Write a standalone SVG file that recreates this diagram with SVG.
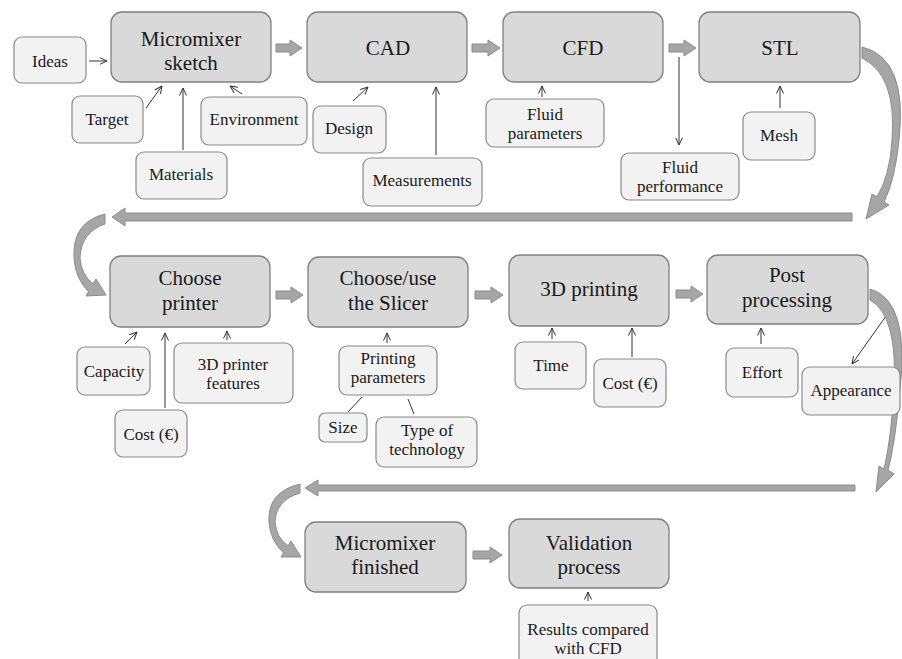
<svg xmlns="http://www.w3.org/2000/svg" width="902" height="659" viewBox="0 0 902 659">
<style>
.main{fill:#d9d9d9;stroke:#808080;stroke-width:1.3}
.sub{fill:#f2f2f2;stroke:#8a8a8a;stroke-width:1.2}
.tm{font-family:"Liberation Serif","Times New Roman",serif;font-size:21px;fill:#1a1a1a;text-anchor:middle}
.ts{font-family:"Liberation Serif","Times New Roman",serif;font-size:17px;fill:#1a1a1a;text-anchor:middle}
.thin{stroke:#333;stroke-width:1;fill:none}
.blk{fill:#a6a6a6;stroke:#8c8c8c;stroke-width:1}
</style>
<defs>
<marker id="ah" viewBox="0 0 8 8" refX="7.5" refY="4" markerWidth="8" markerHeight="8" markerUnits="userSpaceOnUse" orient="auto">
<path d="M0,0.5 L7.5,4 L0,7.5" fill="none" stroke="#333" stroke-width="1"/>
</marker>
</defs>
<rect width="902" height="659" fill="#ffffff"/>

<g id="connectors">
<line class="thin" x1="89" y1="61" x2="107" y2="61" marker-end="url(#ah)"/>
<line class="thin" x1="146" y1="108" x2="162" y2="86" marker-end="url(#ah)"/>
<line class="thin" x1="183" y1="150" x2="183" y2="88" marker-end="url(#ah)"/>
<line class="thin" x1="242" y1="94" x2="230" y2="86" marker-end="url(#ah)"/>
<line class="thin" x1="353" y1="101" x2="368" y2="87" marker-end="url(#ah)"/>
<line class="thin" x1="436" y1="155" x2="436" y2="87" marker-end="url(#ah)"/>
<line class="thin" x1="542" y1="97" x2="542" y2="86" marker-end="url(#ah)"/>
<line class="thin" x1="679" y1="57" x2="679" y2="145" marker-end="url(#ah)"/>
<line class="thin" x1="780" y1="108" x2="780" y2="86" marker-end="url(#ah)"/>
<line class="thin" x1="125" y1="344" x2="137" y2="332" marker-end="url(#ah)"/>
<line class="thin" x1="165" y1="408" x2="165" y2="333" marker-end="url(#ah)"/>
<line class="thin" x1="227" y1="340" x2="227" y2="331" marker-end="url(#ah)"/>
<line class="thin" x1="387" y1="343" x2="387" y2="333" marker-end="url(#ah)"/>
<line class="thin" x1="362" y1="397" x2="348" y2="412"/>
<line class="thin" x1="408" y1="399" x2="414" y2="414"/>
<line class="thin" x1="552" y1="339" x2="552" y2="328" marker-end="url(#ah)"/>
<line class="thin" x1="632" y1="357" x2="632" y2="328" marker-end="url(#ah)"/>
<line class="thin" x1="761" y1="344" x2="761" y2="328" marker-end="url(#ah)"/>
<line class="thin" x1="886" y1="316" x2="852" y2="364" marker-end="url(#ah)"/>
<line class="thin" x1="588" y1="601" x2="588" y2="592" marker-end="url(#ah)"/>

<path class="blk" d="M276,44 L290,44 L290,40 L302,48 L290,56 L290,52 L276,52 Z"/>
<path class="blk" d="M472,44 L488,44 L488,40 L500,48 L488,56 L488,52 L472,52 Z"/>
<path class="blk" d="M669,44 L684,44 L684,40 L696,48 L684,56 L684,52 L669,52 Z"/>
<path class="blk" d="M276,291 L291,291 L291,287 L303,295 L291,303 L291,299 L276,299 Z"/>
<path class="blk" d="M475,291 L491,291 L491,287 L503,295 L491,303 L491,299 L475,299 Z"/>
<path class="blk" d="M676,290 L691,290 L691,286 L703,294 L691,302 L691,298 L676,298 Z"/>
<path class="blk" d="M473,551 L490,551 L490,547 L502,555 L490,563 L490,559 L473,559 Z"/>

<path class="blk" d="M852,213 L125,213 L125,208 L112,217 L125,226 L125,221 L852,221 Z"/>
<path class="blk" d="M855,485 L318,485 L318,480 L305,488 L318,496 L318,491 L855,491 Z"/>

<path class="blk" d="M862,47 Q908,58 899,140 Q895,180 884,202 L889,205 L866,219 L872,194 L877,197 Q890,175 892,140 Q897,75 862,58 Z"/>
<path class="blk" d="M870,289 Q910,300 900,390 Q895,445 888,470 L894,474 L876,492 L879,466 L884,469 Q891,440 894,390 Q898,315 870,300 Z"/>
<path class="blk" d="M105,214 Q72,222 74,258 Q75,278 88.5,291.8 L86,296 L106,295 L96,279 L93,284 Q81,274 80,258 Q81,232 105,224 Z"/>
<path class="blk" d="M300,484 Q267,492 269,522 Q270,540 283.5,553 L281,557 L301,557 L291,541 L288,546 Q276,537 275,522 Q276,500 300,493 Z"/>
</g>

<g id="micromixer-sketch"><rect class="main" x="111" y="12" width="160" height="70" rx="11"/><text class="tm" x="191" y="46">Micromixer</text><text class="tm" x="191" y="70">sketch</text></g>
<g id="cad"><rect class="main" x="307" y="12" width="160" height="70" rx="11"/><text class="tm" x="388" y="55">CAD</text></g>
<g id="cfd"><rect class="main" x="503" y="12" width="160" height="70" rx="11"/><text class="tm" x="583" y="55">CFD</text></g>
<g id="stl"><rect class="main" x="699" y="12" width="161" height="70" rx="11"/><text class="tm" x="780" y="55">STL</text></g>

<g id="ideas"><rect class="sub" x="14" y="37" width="72" height="46" rx="8"/><text class="ts" x="50" y="67">Ideas</text></g>
<g id="target"><rect class="sub" x="72" y="96" width="71" height="47" rx="8"/><text class="ts" x="107" y="125">Target</text></g>
<g id="materials"><rect class="sub" x="136" y="152" width="91" height="47" rx="8"/><text class="ts" x="181" y="180">Materials</text></g>
<g id="environment"><rect class="sub" x="201" y="97" width="106" height="48" rx="8"/><text class="ts" x="254" y="125">Environment</text></g>
<g id="design"><rect class="sub" x="313" y="106" width="73" height="47" rx="8"/><text class="ts" x="349" y="134">Design</text></g>
<g id="measurements"><rect class="sub" x="363" y="158" width="119" height="48" rx="8"/><text class="ts" x="422" y="186">Measurements</text></g>
<g id="fluid-parameters"><rect class="sub" x="486" y="99" width="118" height="48" rx="8"/><text class="ts" x="545" y="120">Fluid</text><text class="ts" x="545" y="139">parameters</text></g>
<g id="fluid-performance"><rect class="sub" x="621" y="153" width="118" height="47" rx="8"/><text class="ts" x="680" y="173">Fluid</text><text class="ts" x="680" y="192">performance</text></g>
<g id="mesh"><rect class="sub" x="743" y="112" width="72" height="48" rx="8"/><text class="ts" x="779" y="141">Mesh</text></g>

<g id="choose-printer"><rect class="main" x="110" y="256" width="160" height="71" rx="11"/><text class="tm" x="190" y="285">Choose</text><text class="tm" x="190" y="310">printer</text></g>
<g id="slicer"><rect class="main" x="308" y="257" width="160" height="70" rx="11"/><text class="tm" x="388" y="285">Choose/use</text><text class="tm" x="388" y="310">the Slicer</text></g>
<g id="printing-3d"><rect class="main" x="509" y="255" width="160" height="71" rx="11"/><text class="tm" x="589" y="296">3D printing</text></g>
<g id="post-processing"><rect class="main" x="707" y="255" width="161" height="69" rx="11"/><text class="tm" x="787" y="282">Post</text><text class="tm" x="787" y="307">processing</text></g>

<g id="capacity"><rect class="sub" x="77" y="347" width="73" height="48" rx="8"/><text class="ts" x="114" y="377">Capacity</text></g>
<g id="cost-printer"><rect class="sub" x="115" y="410" width="72" height="47" rx="8"/><text class="ts" x="151" y="440">Cost (€)</text></g>
<g id="printer-features"><rect class="sub" x="174" y="343" width="119" height="60" rx="8"/><text class="ts" x="233" y="370">3D printer</text><text class="ts" x="233" y="389">features</text></g>
<g id="printing-parameters"><rect class="sub" x="339" y="346" width="98" height="49" rx="8"/><text class="ts" x="388" y="364">Printing</text><text class="ts" x="388" y="383">parameters</text></g>
<g id="size"><rect class="sub" x="319" y="413" width="48" height="29" rx="6"/><text class="ts" x="343" y="433">Size</text></g>
<g id="technology"><rect class="sub" x="376" y="417" width="101" height="50" rx="8"/><text class="ts" x="427" y="436">Type of</text><text class="ts" x="427" y="455">technology</text></g>
<g id="time"><rect class="sub" x="515" y="342" width="71" height="47" rx="8"/><text class="ts" x="551" y="371">Time</text></g>
<g id="cost-print"><rect class="sub" x="594" y="359" width="72" height="48" rx="8"/><text class="ts" x="630" y="389">Cost (€)</text></g>
<g id="effort"><rect class="sub" x="726" y="348" width="72" height="49" rx="8"/><text class="ts" x="762" y="378">Effort</text></g>
<g id="appearance"><rect class="sub" x="802" y="367" width="98" height="48" rx="8"/><text class="ts" x="851" y="396">Appearance</text></g>

<g id="micromixer-finished"><rect class="main" x="305" y="522" width="161" height="70" rx="11"/><text class="tm" x="385" y="550">Micromixer</text><text class="tm" x="385" y="574">finished</text></g>
<g id="validation"><rect class="main" x="509" y="519" width="160" height="69" rx="11"/><text class="tm" x="589" y="550">Validation</text><text class="tm" x="589" y="574">process</text></g>
<g id="results"><rect class="sub" x="519" y="605" width="138" height="62" rx="8"/><text class="ts" x="588" y="635">Results compared</text><text class="ts" x="588" y="654">with CFD</text></g>
</svg>
